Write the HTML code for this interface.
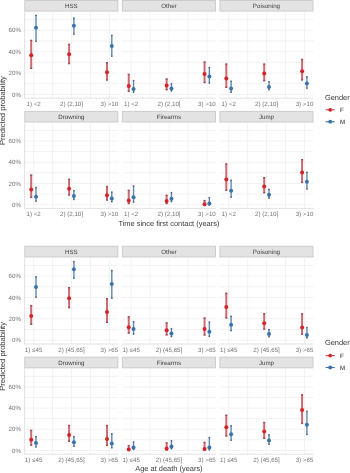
<!DOCTYPE html>
<html><head><meta charset="utf-8"><style>
html,body{margin:0;padding:0;background:#fff;width:350px;height:473px;overflow:hidden}
svg{display:block;font-family:"Liberation Sans", sans-serif;filter:blur(0.3px);text-rendering:geometricPrecision}
</style></head><body>
<svg width="350" height="473" viewBox="0 0 350 473">
<rect width="350" height="473" fill="#fff"/>
<rect x="24.8" y="0.5" width="93.1" height="10.6" fill="#e3e3e3" stroke="#cccccc" stroke-width="1"/>
<text x="71.35" y="8.1" text-anchor="middle" font-size="6.2" fill="#3e3e3e">HSS</text>
<line x1="24.3" y1="94.45" x2="118.4" y2="94.45" stroke="#efefef" stroke-width="0.8"/>
<line x1="24.3" y1="83.75" x2="118.4" y2="83.75" stroke="#efefef" stroke-width="0.8"/>
<line x1="24.3" y1="73.05" x2="118.4" y2="73.05" stroke="#efefef" stroke-width="0.8"/>
<line x1="24.3" y1="62.35" x2="118.4" y2="62.35" stroke="#efefef" stroke-width="0.8"/>
<line x1="24.3" y1="51.65" x2="118.4" y2="51.65" stroke="#efefef" stroke-width="0.8"/>
<line x1="24.3" y1="40.95" x2="118.4" y2="40.95" stroke="#efefef" stroke-width="0.8"/>
<line x1="24.3" y1="30.25" x2="118.4" y2="30.25" stroke="#efefef" stroke-width="0.8"/>
<line x1="24.3" y1="19.55" x2="118.4" y2="19.55" stroke="#efefef" stroke-width="0.8"/>
<line x1="33.6" y1="11.6" x2="33.6" y2="98.2" stroke="#efefef" stroke-width="0.8"/>
<line x1="52.55" y1="11.6" x2="52.55" y2="98.2" stroke="#efefef" stroke-width="0.8"/>
<line x1="71.5" y1="11.6" x2="71.5" y2="98.2" stroke="#efefef" stroke-width="0.8"/>
<line x1="90.45" y1="11.6" x2="90.45" y2="98.2" stroke="#efefef" stroke-width="0.8"/>
<line x1="109.4" y1="11.6" x2="109.4" y2="98.2" stroke="#efefef" stroke-width="0.8"/>
<line x1="24.3" y1="98.2" x2="118.4" y2="98.2" stroke="#dadada" stroke-width="0.8"/>
<line x1="24.6" y1="11.6" x2="24.6" y2="98.2" stroke="#dadada" stroke-width="0.8"/>
<text x="33.6" y="105.8" text-anchor="middle" font-size="6.2" fill="#737373">1) &lt;2</text>
<text x="71.5" y="105.8" text-anchor="middle" font-size="6.2" fill="#737373">2) (2,10]</text>
<text x="109.4" y="105.8" text-anchor="middle" font-size="6.2" fill="#737373">3) &gt;10</text>
<line x1="31.2" y1="40.1" x2="31.2" y2="68.6" stroke="#cb6a73" stroke-width="2.0"/>
<rect x="30.2" y="39.7" width="2.0" height="1.4" fill="#9c4a53"/>
<rect x="30.2" y="67.6" width="2.0" height="1.4" fill="#9c4a53"/>
<circle cx="31.2" cy="55.2" r="2.0" fill="#d22329"/>
<line x1="36" y1="15" x2="36" y2="41.7" stroke="#5f89b1" stroke-width="1.4"/>
<rect x="35.3" y="14.6" width="1.4" height="1.4" fill="#4a5d73"/>
<rect x="35.3" y="40.7" width="1.4" height="1.4" fill="#4a5d73"/>
<circle cx="36" cy="27.8" r="2.0" fill="#3b73a9"/>
<line x1="69.1" y1="44" x2="69.1" y2="63.9" stroke="#cb6a73" stroke-width="2.0"/>
<rect x="68.1" y="43.6" width="2.0" height="1.4" fill="#9c4a53"/>
<rect x="68.1" y="62.9" width="2.0" height="1.4" fill="#9c4a53"/>
<circle cx="69.1" cy="54.2" r="2.0" fill="#d22329"/>
<line x1="73.9" y1="17.8" x2="73.9" y2="34.5" stroke="#5f89b1" stroke-width="1.4"/>
<rect x="73.2" y="17.4" width="1.4" height="1.4" fill="#4a5d73"/>
<rect x="73.2" y="33.5" width="1.4" height="1.4" fill="#4a5d73"/>
<circle cx="73.9" cy="25.8" r="2.0" fill="#3b73a9"/>
<line x1="107" y1="62.4" x2="107" y2="80.3" stroke="#cb6a73" stroke-width="2.0"/>
<rect x="106" y="62" width="2.0" height="1.4" fill="#9c4a53"/>
<rect x="106" y="79.3" width="2.0" height="1.4" fill="#9c4a53"/>
<circle cx="107" cy="72.3" r="2.0" fill="#d22329"/>
<line x1="111.8" y1="35.1" x2="111.8" y2="56.5" stroke="#5f89b1" stroke-width="1.4"/>
<rect x="111.1" y="34.7" width="1.4" height="1.4" fill="#4a5d73"/>
<rect x="111.1" y="55.5" width="1.4" height="1.4" fill="#4a5d73"/>
<circle cx="111.8" cy="45.9" r="2.0" fill="#3b73a9"/>
<rect x="122.35" y="0.5" width="93.1" height="10.6" fill="#e3e3e3" stroke="#cccccc" stroke-width="1"/>
<text x="168.9" y="8.1" text-anchor="middle" font-size="6.2" fill="#3e3e3e">Other</text>
<line x1="121.85" y1="94.45" x2="215.95" y2="94.45" stroke="#efefef" stroke-width="0.8"/>
<line x1="121.85" y1="83.75" x2="215.95" y2="83.75" stroke="#efefef" stroke-width="0.8"/>
<line x1="121.85" y1="73.05" x2="215.95" y2="73.05" stroke="#efefef" stroke-width="0.8"/>
<line x1="121.85" y1="62.35" x2="215.95" y2="62.35" stroke="#efefef" stroke-width="0.8"/>
<line x1="121.85" y1="51.65" x2="215.95" y2="51.65" stroke="#efefef" stroke-width="0.8"/>
<line x1="121.85" y1="40.95" x2="215.95" y2="40.95" stroke="#efefef" stroke-width="0.8"/>
<line x1="121.85" y1="30.25" x2="215.95" y2="30.25" stroke="#efefef" stroke-width="0.8"/>
<line x1="121.85" y1="19.55" x2="215.95" y2="19.55" stroke="#efefef" stroke-width="0.8"/>
<line x1="131.15" y1="11.6" x2="131.15" y2="98.2" stroke="#efefef" stroke-width="0.8"/>
<line x1="150.1" y1="11.6" x2="150.1" y2="98.2" stroke="#efefef" stroke-width="0.8"/>
<line x1="169.05" y1="11.6" x2="169.05" y2="98.2" stroke="#efefef" stroke-width="0.8"/>
<line x1="188" y1="11.6" x2="188" y2="98.2" stroke="#efefef" stroke-width="0.8"/>
<line x1="206.95" y1="11.6" x2="206.95" y2="98.2" stroke="#efefef" stroke-width="0.8"/>
<line x1="121.85" y1="98.2" x2="215.95" y2="98.2" stroke="#dadada" stroke-width="0.8"/>
<text x="131.15" y="105.8" text-anchor="middle" font-size="6.2" fill="#737373">1) &lt;2</text>
<text x="169.05" y="105.8" text-anchor="middle" font-size="6.2" fill="#737373">2) (2,10]</text>
<text x="206.95" y="105.8" text-anchor="middle" font-size="6.2" fill="#737373">3) &gt;10</text>
<line x1="128.75" y1="74.1" x2="128.75" y2="91.5" stroke="#cb6a73" stroke-width="2.0"/>
<rect x="127.75" y="73.7" width="2.0" height="1.4" fill="#9c4a53"/>
<rect x="127.75" y="90.5" width="2.0" height="1.4" fill="#9c4a53"/>
<circle cx="128.75" cy="86.1" r="2.0" fill="#d22329"/>
<line x1="133.55" y1="80.3" x2="133.55" y2="92.5" stroke="#5f89b1" stroke-width="1.4"/>
<rect x="132.85" y="79.9" width="1.4" height="1.4" fill="#4a5d73"/>
<rect x="132.85" y="91.5" width="1.4" height="1.4" fill="#4a5d73"/>
<circle cx="133.55" cy="89.1" r="2.0" fill="#3b73a9"/>
<line x1="166.65" y1="78.7" x2="166.65" y2="90" stroke="#cb6a73" stroke-width="2.0"/>
<rect x="165.65" y="78.3" width="2.0" height="1.4" fill="#9c4a53"/>
<rect x="165.65" y="89" width="2.0" height="1.4" fill="#9c4a53"/>
<circle cx="166.65" cy="85.6" r="2.0" fill="#d22329"/>
<line x1="171.45" y1="83.6" x2="171.45" y2="91.3" stroke="#5f89b1" stroke-width="1.4"/>
<rect x="170.75" y="83.2" width="1.4" height="1.4" fill="#4a5d73"/>
<rect x="170.75" y="90.3" width="1.4" height="1.4" fill="#4a5d73"/>
<circle cx="171.45" cy="88.4" r="2.0" fill="#3b73a9"/>
<line x1="204.55" y1="61.7" x2="204.55" y2="82.8" stroke="#cb6a73" stroke-width="2.0"/>
<rect x="203.55" y="61.3" width="2.0" height="1.4" fill="#9c4a53"/>
<rect x="203.55" y="81.8" width="2.0" height="1.4" fill="#9c4a53"/>
<circle cx="204.55" cy="74" r="2.0" fill="#d22329"/>
<line x1="209.35" y1="67.3" x2="209.35" y2="83.3" stroke="#5f89b1" stroke-width="1.4"/>
<rect x="208.65" y="66.9" width="1.4" height="1.4" fill="#4a5d73"/>
<rect x="208.65" y="82.3" width="1.4" height="1.4" fill="#4a5d73"/>
<circle cx="209.35" cy="76.4" r="2.0" fill="#3b73a9"/>
<rect x="219.9" y="0.5" width="93.1" height="10.6" fill="#e3e3e3" stroke="#cccccc" stroke-width="1"/>
<text x="266.45" y="8.1" text-anchor="middle" font-size="6.2" fill="#3e3e3e">Poisoning</text>
<line x1="219.4" y1="94.45" x2="313.5" y2="94.45" stroke="#efefef" stroke-width="0.8"/>
<line x1="219.4" y1="83.75" x2="313.5" y2="83.75" stroke="#efefef" stroke-width="0.8"/>
<line x1="219.4" y1="73.05" x2="313.5" y2="73.05" stroke="#efefef" stroke-width="0.8"/>
<line x1="219.4" y1="62.35" x2="313.5" y2="62.35" stroke="#efefef" stroke-width="0.8"/>
<line x1="219.4" y1="51.65" x2="313.5" y2="51.65" stroke="#efefef" stroke-width="0.8"/>
<line x1="219.4" y1="40.95" x2="313.5" y2="40.95" stroke="#efefef" stroke-width="0.8"/>
<line x1="219.4" y1="30.25" x2="313.5" y2="30.25" stroke="#efefef" stroke-width="0.8"/>
<line x1="219.4" y1="19.55" x2="313.5" y2="19.55" stroke="#efefef" stroke-width="0.8"/>
<line x1="228.7" y1="11.6" x2="228.7" y2="98.2" stroke="#efefef" stroke-width="0.8"/>
<line x1="247.65" y1="11.6" x2="247.65" y2="98.2" stroke="#efefef" stroke-width="0.8"/>
<line x1="266.6" y1="11.6" x2="266.6" y2="98.2" stroke="#efefef" stroke-width="0.8"/>
<line x1="285.55" y1="11.6" x2="285.55" y2="98.2" stroke="#efefef" stroke-width="0.8"/>
<line x1="304.5" y1="11.6" x2="304.5" y2="98.2" stroke="#efefef" stroke-width="0.8"/>
<line x1="219.4" y1="98.2" x2="313.5" y2="98.2" stroke="#dadada" stroke-width="0.8"/>
<text x="228.7" y="105.8" text-anchor="middle" font-size="6.2" fill="#737373">1) &lt;2</text>
<text x="266.6" y="105.8" text-anchor="middle" font-size="6.2" fill="#737373">2) (2,10]</text>
<text x="304.5" y="105.8" text-anchor="middle" font-size="6.2" fill="#737373">3) &gt;10</text>
<line x1="226.3" y1="63.8" x2="226.3" y2="87.6" stroke="#cb6a73" stroke-width="2.0"/>
<rect x="225.3" y="63.4" width="2.0" height="1.4" fill="#9c4a53"/>
<rect x="225.3" y="86.6" width="2.0" height="1.4" fill="#9c4a53"/>
<circle cx="226.3" cy="78.4" r="2.0" fill="#d22329"/>
<line x1="231.1" y1="80.9" x2="231.1" y2="92.6" stroke="#5f89b1" stroke-width="1.4"/>
<rect x="230.4" y="80.5" width="1.4" height="1.4" fill="#4a5d73"/>
<rect x="230.4" y="91.6" width="1.4" height="1.4" fill="#4a5d73"/>
<circle cx="231.1" cy="88.6" r="2.0" fill="#3b73a9"/>
<line x1="264.2" y1="63.8" x2="264.2" y2="81" stroke="#cb6a73" stroke-width="2.0"/>
<rect x="263.2" y="63.4" width="2.0" height="1.4" fill="#9c4a53"/>
<rect x="263.2" y="80" width="2.0" height="1.4" fill="#9c4a53"/>
<circle cx="264.2" cy="73.5" r="2.0" fill="#d22329"/>
<line x1="269" y1="81.4" x2="269" y2="90.1" stroke="#5f89b1" stroke-width="1.4"/>
<rect x="268.3" y="81" width="1.4" height="1.4" fill="#4a5d73"/>
<rect x="268.3" y="89.1" width="1.4" height="1.4" fill="#4a5d73"/>
<circle cx="269" cy="87" r="2.0" fill="#3b73a9"/>
<line x1="302.1" y1="59.1" x2="302.1" y2="80.2" stroke="#cb6a73" stroke-width="2.0"/>
<rect x="301.1" y="58.7" width="2.0" height="1.4" fill="#9c4a53"/>
<rect x="301.1" y="79.2" width="2.0" height="1.4" fill="#9c4a53"/>
<circle cx="302.1" cy="71.2" r="2.0" fill="#d22329"/>
<line x1="306.9" y1="76.4" x2="306.9" y2="88.5" stroke="#5f89b1" stroke-width="1.4"/>
<rect x="306.2" y="76" width="1.4" height="1.4" fill="#4a5d73"/>
<rect x="306.2" y="87.5" width="1.4" height="1.4" fill="#4a5d73"/>
<circle cx="306.9" cy="83.5" r="2.0" fill="#3b73a9"/>
<text x="21.0" y="96.55" text-anchor="end" font-size="6.2" fill="#737373">0%</text>
<text x="21.0" y="75.15" text-anchor="end" font-size="6.2" fill="#737373">20%</text>
<text x="21.0" y="53.75" text-anchor="end" font-size="6.2" fill="#737373">40%</text>
<text x="21.0" y="32.35" text-anchor="end" font-size="6.2" fill="#737373">60%</text>
<rect x="24.8" y="111.4" width="93.1" height="10.6" fill="#e3e3e3" stroke="#cccccc" stroke-width="1"/>
<text x="71.35" y="119" text-anchor="middle" font-size="6.2" fill="#3e3e3e">Drowning</text>
<line x1="24.3" y1="204.6" x2="118.4" y2="204.6" stroke="#efefef" stroke-width="0.8"/>
<line x1="24.3" y1="194.02" x2="118.4" y2="194.02" stroke="#efefef" stroke-width="0.8"/>
<line x1="24.3" y1="183.44" x2="118.4" y2="183.44" stroke="#efefef" stroke-width="0.8"/>
<line x1="24.3" y1="172.86" x2="118.4" y2="172.86" stroke="#efefef" stroke-width="0.8"/>
<line x1="24.3" y1="162.28" x2="118.4" y2="162.28" stroke="#efefef" stroke-width="0.8"/>
<line x1="24.3" y1="151.7" x2="118.4" y2="151.7" stroke="#efefef" stroke-width="0.8"/>
<line x1="24.3" y1="141.12" x2="118.4" y2="141.12" stroke="#efefef" stroke-width="0.8"/>
<line x1="24.3" y1="130.54" x2="118.4" y2="130.54" stroke="#efefef" stroke-width="0.8"/>
<line x1="33.6" y1="122.5" x2="33.6" y2="208.4" stroke="#efefef" stroke-width="0.8"/>
<line x1="52.55" y1="122.5" x2="52.55" y2="208.4" stroke="#efefef" stroke-width="0.8"/>
<line x1="71.5" y1="122.5" x2="71.5" y2="208.4" stroke="#efefef" stroke-width="0.8"/>
<line x1="90.45" y1="122.5" x2="90.45" y2="208.4" stroke="#efefef" stroke-width="0.8"/>
<line x1="109.4" y1="122.5" x2="109.4" y2="208.4" stroke="#efefef" stroke-width="0.8"/>
<line x1="24.3" y1="208.4" x2="118.4" y2="208.4" stroke="#dadada" stroke-width="0.8"/>
<line x1="24.6" y1="122.5" x2="24.6" y2="208.4" stroke="#dadada" stroke-width="0.8"/>
<text x="33.6" y="216" text-anchor="middle" font-size="6.2" fill="#737373">1) &lt;2</text>
<text x="71.5" y="216" text-anchor="middle" font-size="6.2" fill="#737373">2) (2,10]</text>
<text x="109.4" y="216" text-anchor="middle" font-size="6.2" fill="#737373">3) &gt;10</text>
<line x1="31.2" y1="174.8" x2="31.2" y2="197.7" stroke="#cb6a73" stroke-width="2.0"/>
<rect x="30.2" y="174.4" width="2.0" height="1.4" fill="#9c4a53"/>
<rect x="30.2" y="196.7" width="2.0" height="1.4" fill="#9c4a53"/>
<circle cx="31.2" cy="189.5" r="2.0" fill="#d22329"/>
<line x1="36" y1="187.2" x2="36" y2="201.4" stroke="#5f89b1" stroke-width="1.4"/>
<rect x="35.3" y="186.8" width="1.4" height="1.4" fill="#4a5d73"/>
<rect x="35.3" y="200.4" width="1.4" height="1.4" fill="#4a5d73"/>
<circle cx="36" cy="196.8" r="2.0" fill="#3b73a9"/>
<line x1="69.1" y1="179.1" x2="69.1" y2="195.3" stroke="#cb6a73" stroke-width="2.0"/>
<rect x="68.1" y="178.7" width="2.0" height="1.4" fill="#9c4a53"/>
<rect x="68.1" y="194.3" width="2.0" height="1.4" fill="#9c4a53"/>
<circle cx="69.1" cy="188.7" r="2.0" fill="#d22329"/>
<line x1="73.9" y1="190.3" x2="73.9" y2="199.8" stroke="#5f89b1" stroke-width="1.4"/>
<rect x="73.2" y="189.9" width="1.4" height="1.4" fill="#4a5d73"/>
<rect x="73.2" y="198.8" width="1.4" height="1.4" fill="#4a5d73"/>
<circle cx="73.9" cy="196" r="2.0" fill="#3b73a9"/>
<line x1="107" y1="186.2" x2="107" y2="200.3" stroke="#cb6a73" stroke-width="2.0"/>
<rect x="106" y="185.8" width="2.0" height="1.4" fill="#9c4a53"/>
<rect x="106" y="199.3" width="2.0" height="1.4" fill="#9c4a53"/>
<circle cx="107" cy="195.3" r="2.0" fill="#d22329"/>
<line x1="111.8" y1="191.8" x2="111.8" y2="202" stroke="#5f89b1" stroke-width="1.4"/>
<rect x="111.1" y="191.4" width="1.4" height="1.4" fill="#4a5d73"/>
<rect x="111.1" y="201" width="1.4" height="1.4" fill="#4a5d73"/>
<circle cx="111.8" cy="198.5" r="2.0" fill="#3b73a9"/>
<rect x="122.35" y="111.4" width="93.1" height="10.6" fill="#e3e3e3" stroke="#cccccc" stroke-width="1"/>
<text x="168.9" y="119" text-anchor="middle" font-size="6.2" fill="#3e3e3e">Firearms</text>
<line x1="121.85" y1="204.6" x2="215.95" y2="204.6" stroke="#efefef" stroke-width="0.8"/>
<line x1="121.85" y1="194.02" x2="215.95" y2="194.02" stroke="#efefef" stroke-width="0.8"/>
<line x1="121.85" y1="183.44" x2="215.95" y2="183.44" stroke="#efefef" stroke-width="0.8"/>
<line x1="121.85" y1="172.86" x2="215.95" y2="172.86" stroke="#efefef" stroke-width="0.8"/>
<line x1="121.85" y1="162.28" x2="215.95" y2="162.28" stroke="#efefef" stroke-width="0.8"/>
<line x1="121.85" y1="151.7" x2="215.95" y2="151.7" stroke="#efefef" stroke-width="0.8"/>
<line x1="121.85" y1="141.12" x2="215.95" y2="141.12" stroke="#efefef" stroke-width="0.8"/>
<line x1="121.85" y1="130.54" x2="215.95" y2="130.54" stroke="#efefef" stroke-width="0.8"/>
<line x1="131.15" y1="122.5" x2="131.15" y2="208.4" stroke="#efefef" stroke-width="0.8"/>
<line x1="150.1" y1="122.5" x2="150.1" y2="208.4" stroke="#efefef" stroke-width="0.8"/>
<line x1="169.05" y1="122.5" x2="169.05" y2="208.4" stroke="#efefef" stroke-width="0.8"/>
<line x1="188" y1="122.5" x2="188" y2="208.4" stroke="#efefef" stroke-width="0.8"/>
<line x1="206.95" y1="122.5" x2="206.95" y2="208.4" stroke="#efefef" stroke-width="0.8"/>
<line x1="121.85" y1="208.4" x2="215.95" y2="208.4" stroke="#dadada" stroke-width="0.8"/>
<text x="131.15" y="216" text-anchor="middle" font-size="6.2" fill="#737373">1) &lt;2</text>
<text x="169.05" y="216" text-anchor="middle" font-size="6.2" fill="#737373">2) (2,10]</text>
<text x="206.95" y="216" text-anchor="middle" font-size="6.2" fill="#737373">3) &gt;10</text>
<line x1="128.75" y1="190.1" x2="128.75" y2="203.8" stroke="#cb6a73" stroke-width="2.0"/>
<rect x="127.75" y="189.7" width="2.0" height="1.4" fill="#9c4a53"/>
<rect x="127.75" y="202.8" width="2.0" height="1.4" fill="#9c4a53"/>
<circle cx="128.75" cy="200.4" r="2.0" fill="#d22329"/>
<line x1="133.55" y1="185.7" x2="133.55" y2="202.4" stroke="#5f89b1" stroke-width="1.4"/>
<rect x="132.85" y="185.3" width="1.4" height="1.4" fill="#4a5d73"/>
<rect x="132.85" y="201.4" width="1.4" height="1.4" fill="#4a5d73"/>
<circle cx="133.55" cy="197.2" r="2.0" fill="#3b73a9"/>
<line x1="166.65" y1="195" x2="166.65" y2="203.8" stroke="#cb6a73" stroke-width="2.0"/>
<rect x="165.65" y="194.6" width="2.0" height="1.4" fill="#9c4a53"/>
<rect x="165.65" y="202.8" width="2.0" height="1.4" fill="#9c4a53"/>
<circle cx="166.65" cy="201.1" r="2.0" fill="#d22329"/>
<line x1="171.45" y1="192.3" x2="171.45" y2="201.9" stroke="#5f89b1" stroke-width="1.4"/>
<rect x="170.75" y="191.9" width="1.4" height="1.4" fill="#4a5d73"/>
<rect x="170.75" y="200.9" width="1.4" height="1.4" fill="#4a5d73"/>
<circle cx="171.45" cy="198.7" r="2.0" fill="#3b73a9"/>
<line x1="204.55" y1="200.3" x2="204.55" y2="205.4" stroke="#cb6a73" stroke-width="2.0"/>
<rect x="203.55" y="199.9" width="2.0" height="1.4" fill="#9c4a53"/>
<rect x="203.55" y="204.4" width="2.0" height="1.4" fill="#9c4a53"/>
<circle cx="204.55" cy="204.3" r="2.0" fill="#d22329"/>
<line x1="209.35" y1="197.4" x2="209.35" y2="205.4" stroke="#5f89b1" stroke-width="1.4"/>
<rect x="208.65" y="197" width="1.4" height="1.4" fill="#4a5d73"/>
<rect x="208.65" y="204.4" width="1.4" height="1.4" fill="#4a5d73"/>
<circle cx="209.35" cy="203.5" r="2.0" fill="#3b73a9"/>
<rect x="219.9" y="111.4" width="93.1" height="10.6" fill="#e3e3e3" stroke="#cccccc" stroke-width="1"/>
<text x="266.45" y="119" text-anchor="middle" font-size="6.2" fill="#3e3e3e">Jump</text>
<line x1="219.4" y1="204.6" x2="313.5" y2="204.6" stroke="#efefef" stroke-width="0.8"/>
<line x1="219.4" y1="194.02" x2="313.5" y2="194.02" stroke="#efefef" stroke-width="0.8"/>
<line x1="219.4" y1="183.44" x2="313.5" y2="183.44" stroke="#efefef" stroke-width="0.8"/>
<line x1="219.4" y1="172.86" x2="313.5" y2="172.86" stroke="#efefef" stroke-width="0.8"/>
<line x1="219.4" y1="162.28" x2="313.5" y2="162.28" stroke="#efefef" stroke-width="0.8"/>
<line x1="219.4" y1="151.7" x2="313.5" y2="151.7" stroke="#efefef" stroke-width="0.8"/>
<line x1="219.4" y1="141.12" x2="313.5" y2="141.12" stroke="#efefef" stroke-width="0.8"/>
<line x1="219.4" y1="130.54" x2="313.5" y2="130.54" stroke="#efefef" stroke-width="0.8"/>
<line x1="228.7" y1="122.5" x2="228.7" y2="208.4" stroke="#efefef" stroke-width="0.8"/>
<line x1="247.65" y1="122.5" x2="247.65" y2="208.4" stroke="#efefef" stroke-width="0.8"/>
<line x1="266.6" y1="122.5" x2="266.6" y2="208.4" stroke="#efefef" stroke-width="0.8"/>
<line x1="285.55" y1="122.5" x2="285.55" y2="208.4" stroke="#efefef" stroke-width="0.8"/>
<line x1="304.5" y1="122.5" x2="304.5" y2="208.4" stroke="#efefef" stroke-width="0.8"/>
<line x1="219.4" y1="208.4" x2="313.5" y2="208.4" stroke="#dadada" stroke-width="0.8"/>
<text x="228.7" y="216" text-anchor="middle" font-size="6.2" fill="#737373">1) &lt;2</text>
<text x="266.6" y="216" text-anchor="middle" font-size="6.2" fill="#737373">2) (2,10]</text>
<text x="304.5" y="216" text-anchor="middle" font-size="6.2" fill="#737373">3) &gt;10</text>
<line x1="226.3" y1="163.6" x2="226.3" y2="190.5" stroke="#cb6a73" stroke-width="2.0"/>
<rect x="225.3" y="163.2" width="2.0" height="1.4" fill="#9c4a53"/>
<rect x="225.3" y="189.5" width="2.0" height="1.4" fill="#9c4a53"/>
<circle cx="226.3" cy="179.4" r="2.0" fill="#d22329"/>
<line x1="231.1" y1="179.9" x2="231.1" y2="197.4" stroke="#5f89b1" stroke-width="1.4"/>
<rect x="230.4" y="179.5" width="1.4" height="1.4" fill="#4a5d73"/>
<rect x="230.4" y="196.4" width="1.4" height="1.4" fill="#4a5d73"/>
<circle cx="231.1" cy="190.8" r="2.0" fill="#3b73a9"/>
<line x1="264.2" y1="177.4" x2="264.2" y2="193" stroke="#cb6a73" stroke-width="2.0"/>
<rect x="263.2" y="177" width="2.0" height="1.4" fill="#9c4a53"/>
<rect x="263.2" y="192" width="2.0" height="1.4" fill="#9c4a53"/>
<circle cx="264.2" cy="186.5" r="2.0" fill="#d22329"/>
<line x1="269" y1="189" x2="269" y2="198.4" stroke="#5f89b1" stroke-width="1.4"/>
<rect x="268.3" y="188.6" width="1.4" height="1.4" fill="#4a5d73"/>
<rect x="268.3" y="197.4" width="1.4" height="1.4" fill="#4a5d73"/>
<circle cx="269" cy="194.8" r="2.0" fill="#3b73a9"/>
<line x1="302.1" y1="159.4" x2="302.1" y2="182.7" stroke="#cb6a73" stroke-width="2.0"/>
<rect x="301.1" y="159" width="2.0" height="1.4" fill="#9c4a53"/>
<rect x="301.1" y="181.7" width="2.0" height="1.4" fill="#9c4a53"/>
<circle cx="302.1" cy="172.5" r="2.0" fill="#d22329"/>
<line x1="306.9" y1="172" x2="306.9" y2="189.3" stroke="#5f89b1" stroke-width="1.4"/>
<rect x="306.2" y="171.6" width="1.4" height="1.4" fill="#4a5d73"/>
<rect x="306.2" y="188.3" width="1.4" height="1.4" fill="#4a5d73"/>
<circle cx="306.9" cy="181.8" r="2.0" fill="#3b73a9"/>
<text x="21.0" y="206.7" text-anchor="end" font-size="6.2" fill="#737373">0%</text>
<text x="21.0" y="185.54" text-anchor="end" font-size="6.2" fill="#737373">20%</text>
<text x="21.0" y="164.38" text-anchor="end" font-size="6.2" fill="#737373">40%</text>
<text x="21.0" y="143.22" text-anchor="end" font-size="6.2" fill="#737373">60%</text>
<text x="168.9" y="225.7" text-anchor="middle" font-size="7.45" fill="#3a3a3a">Time since first contact (years)</text>
<text transform="translate(5.2,110.6) rotate(-90)" x="0" y="0" text-anchor="middle" font-size="7.6" fill="#3a3a3a">Predicted probability</text>
<text x="324.9" y="99.6" font-size="7.45" fill="#3a3a3a">Gender</text>
<line x1="325.6" y1="109.8" x2="334.8" y2="109.8" stroke="#c4434b" stroke-width="1.1"/>
<circle cx="330.2" cy="109.8" r="1.9" fill="#d22329"/>
<text x="340.1" y="112" font-size="6.2" fill="#4a4a4a" stroke="#4a4a4a" stroke-width="0.12">F</text>
<line x1="325.6" y1="121.7" x2="334.8" y2="121.7" stroke="#3f73a5" stroke-width="1.1"/>
<circle cx="330.2" cy="121.7" r="1.9" fill="#3b73a9"/>
<text x="340.1" y="123.9" font-size="6.2" fill="#4a4a4a" stroke="#4a4a4a" stroke-width="0.12">M</text>
<rect x="24.8" y="246.3" width="93.1" height="10.6" fill="#e3e3e3" stroke="#cccccc" stroke-width="1"/>
<text x="71.35" y="253.9" text-anchor="middle" font-size="6.2" fill="#3e3e3e">HSS</text>
<line x1="24.3" y1="340.25" x2="118.4" y2="340.25" stroke="#efefef" stroke-width="0.8"/>
<line x1="24.3" y1="329.55" x2="118.4" y2="329.55" stroke="#efefef" stroke-width="0.8"/>
<line x1="24.3" y1="318.85" x2="118.4" y2="318.85" stroke="#efefef" stroke-width="0.8"/>
<line x1="24.3" y1="308.15" x2="118.4" y2="308.15" stroke="#efefef" stroke-width="0.8"/>
<line x1="24.3" y1="297.45" x2="118.4" y2="297.45" stroke="#efefef" stroke-width="0.8"/>
<line x1="24.3" y1="286.75" x2="118.4" y2="286.75" stroke="#efefef" stroke-width="0.8"/>
<line x1="24.3" y1="276.05" x2="118.4" y2="276.05" stroke="#efefef" stroke-width="0.8"/>
<line x1="24.3" y1="265.35" x2="118.4" y2="265.35" stroke="#efefef" stroke-width="0.8"/>
<line x1="33.6" y1="257.4" x2="33.6" y2="344" stroke="#efefef" stroke-width="0.8"/>
<line x1="52.55" y1="257.4" x2="52.55" y2="344" stroke="#efefef" stroke-width="0.8"/>
<line x1="71.5" y1="257.4" x2="71.5" y2="344" stroke="#efefef" stroke-width="0.8"/>
<line x1="90.45" y1="257.4" x2="90.45" y2="344" stroke="#efefef" stroke-width="0.8"/>
<line x1="109.4" y1="257.4" x2="109.4" y2="344" stroke="#efefef" stroke-width="0.8"/>
<line x1="24.3" y1="344" x2="118.4" y2="344" stroke="#dadada" stroke-width="0.8"/>
<line x1="24.6" y1="257.4" x2="24.6" y2="344" stroke="#dadada" stroke-width="0.8"/>
<text x="33.6" y="351.6" text-anchor="middle" font-size="6.2" fill="#737373">1) ≤45</text>
<text x="71.5" y="351.6" text-anchor="middle" font-size="6.2" fill="#737373">2) (45,65]</text>
<text x="109.4" y="351.6" text-anchor="middle" font-size="6.2" fill="#737373">3) &gt;65</text>
<line x1="31.2" y1="305.4" x2="31.2" y2="324.5" stroke="#cb6a73" stroke-width="2.0"/>
<rect x="30.2" y="305" width="2.0" height="1.4" fill="#9c4a53"/>
<rect x="30.2" y="323.5" width="2.0" height="1.4" fill="#9c4a53"/>
<circle cx="31.2" cy="315.9" r="2.0" fill="#d22329"/>
<line x1="36" y1="276.5" x2="36" y2="297.4" stroke="#5f89b1" stroke-width="1.4"/>
<rect x="35.3" y="276.1" width="1.4" height="1.4" fill="#4a5d73"/>
<rect x="35.3" y="296.4" width="1.4" height="1.4" fill="#4a5d73"/>
<circle cx="36" cy="287" r="2.0" fill="#3b73a9"/>
<line x1="69.1" y1="287.4" x2="69.1" y2="307.9" stroke="#cb6a73" stroke-width="2.0"/>
<rect x="68.1" y="287" width="2.0" height="1.4" fill="#9c4a53"/>
<rect x="68.1" y="306.9" width="2.0" height="1.4" fill="#9c4a53"/>
<circle cx="69.1" cy="298.2" r="2.0" fill="#d22329"/>
<line x1="73.9" y1="261.3" x2="73.9" y2="278.4" stroke="#5f89b1" stroke-width="1.4"/>
<rect x="73.2" y="260.9" width="1.4" height="1.4" fill="#4a5d73"/>
<rect x="73.2" y="277.4" width="1.4" height="1.4" fill="#4a5d73"/>
<circle cx="73.9" cy="269.3" r="2.0" fill="#3b73a9"/>
<line x1="107" y1="298.4" x2="107" y2="322.6" stroke="#cb6a73" stroke-width="2.0"/>
<rect x="106" y="298" width="2.0" height="1.4" fill="#9c4a53"/>
<rect x="106" y="321.6" width="2.0" height="1.4" fill="#9c4a53"/>
<circle cx="107" cy="312.1" r="2.0" fill="#d22329"/>
<line x1="111.8" y1="270.2" x2="111.8" y2="298.4" stroke="#5f89b1" stroke-width="1.4"/>
<rect x="111.1" y="269.8" width="1.4" height="1.4" fill="#4a5d73"/>
<rect x="111.1" y="297.4" width="1.4" height="1.4" fill="#4a5d73"/>
<circle cx="111.8" cy="284.1" r="2.0" fill="#3b73a9"/>
<rect x="122.35" y="246.3" width="93.1" height="10.6" fill="#e3e3e3" stroke="#cccccc" stroke-width="1"/>
<text x="168.9" y="253.9" text-anchor="middle" font-size="6.2" fill="#3e3e3e">Other</text>
<line x1="121.85" y1="340.25" x2="215.95" y2="340.25" stroke="#efefef" stroke-width="0.8"/>
<line x1="121.85" y1="329.55" x2="215.95" y2="329.55" stroke="#efefef" stroke-width="0.8"/>
<line x1="121.85" y1="318.85" x2="215.95" y2="318.85" stroke="#efefef" stroke-width="0.8"/>
<line x1="121.85" y1="308.15" x2="215.95" y2="308.15" stroke="#efefef" stroke-width="0.8"/>
<line x1="121.85" y1="297.45" x2="215.95" y2="297.45" stroke="#efefef" stroke-width="0.8"/>
<line x1="121.85" y1="286.75" x2="215.95" y2="286.75" stroke="#efefef" stroke-width="0.8"/>
<line x1="121.85" y1="276.05" x2="215.95" y2="276.05" stroke="#efefef" stroke-width="0.8"/>
<line x1="121.85" y1="265.35" x2="215.95" y2="265.35" stroke="#efefef" stroke-width="0.8"/>
<line x1="131.15" y1="257.4" x2="131.15" y2="344" stroke="#efefef" stroke-width="0.8"/>
<line x1="150.1" y1="257.4" x2="150.1" y2="344" stroke="#efefef" stroke-width="0.8"/>
<line x1="169.05" y1="257.4" x2="169.05" y2="344" stroke="#efefef" stroke-width="0.8"/>
<line x1="188" y1="257.4" x2="188" y2="344" stroke="#efefef" stroke-width="0.8"/>
<line x1="206.95" y1="257.4" x2="206.95" y2="344" stroke="#efefef" stroke-width="0.8"/>
<line x1="121.85" y1="344" x2="215.95" y2="344" stroke="#dadada" stroke-width="0.8"/>
<text x="131.15" y="351.6" text-anchor="middle" font-size="6.2" fill="#737373">1) ≤45</text>
<text x="169.05" y="351.6" text-anchor="middle" font-size="6.2" fill="#737373">2) (45,65]</text>
<text x="206.95" y="351.6" text-anchor="middle" font-size="6.2" fill="#737373">3) &gt;65</text>
<line x1="128.75" y1="316.5" x2="128.75" y2="333.4" stroke="#cb6a73" stroke-width="2.0"/>
<rect x="127.75" y="316.1" width="2.0" height="1.4" fill="#9c4a53"/>
<rect x="127.75" y="332.4" width="2.0" height="1.4" fill="#9c4a53"/>
<circle cx="128.75" cy="327.2" r="2.0" fill="#d22329"/>
<line x1="133.55" y1="321.3" x2="133.55" y2="334.4" stroke="#5f89b1" stroke-width="1.4"/>
<rect x="132.85" y="320.9" width="1.4" height="1.4" fill="#4a5d73"/>
<rect x="132.85" y="333.4" width="1.4" height="1.4" fill="#4a5d73"/>
<circle cx="133.55" cy="329" r="2.0" fill="#3b73a9"/>
<line x1="166.65" y1="322.6" x2="166.65" y2="335.2" stroke="#cb6a73" stroke-width="2.0"/>
<rect x="165.65" y="322.2" width="2.0" height="1.4" fill="#9c4a53"/>
<rect x="165.65" y="334.2" width="2.0" height="1.4" fill="#9c4a53"/>
<circle cx="166.65" cy="330.3" r="2.0" fill="#d22329"/>
<line x1="171.45" y1="328.3" x2="171.45" y2="336.9" stroke="#5f89b1" stroke-width="1.4"/>
<rect x="170.75" y="327.9" width="1.4" height="1.4" fill="#4a5d73"/>
<rect x="170.75" y="335.9" width="1.4" height="1.4" fill="#4a5d73"/>
<circle cx="171.45" cy="333.4" r="2.0" fill="#3b73a9"/>
<line x1="204.55" y1="317.7" x2="204.55" y2="335.3" stroke="#cb6a73" stroke-width="2.0"/>
<rect x="203.55" y="317.3" width="2.0" height="1.4" fill="#9c4a53"/>
<rect x="203.55" y="334.3" width="2.0" height="1.4" fill="#9c4a53"/>
<circle cx="204.55" cy="329.1" r="2.0" fill="#d22329"/>
<line x1="209.35" y1="321.7" x2="209.35" y2="336.6" stroke="#5f89b1" stroke-width="1.4"/>
<rect x="208.65" y="321.3" width="1.4" height="1.4" fill="#4a5d73"/>
<rect x="208.65" y="335.6" width="1.4" height="1.4" fill="#4a5d73"/>
<circle cx="209.35" cy="331.8" r="2.0" fill="#3b73a9"/>
<rect x="219.9" y="246.3" width="93.1" height="10.6" fill="#e3e3e3" stroke="#cccccc" stroke-width="1"/>
<text x="266.45" y="253.9" text-anchor="middle" font-size="6.2" fill="#3e3e3e">Poisoning</text>
<line x1="219.4" y1="340.25" x2="313.5" y2="340.25" stroke="#efefef" stroke-width="0.8"/>
<line x1="219.4" y1="329.55" x2="313.5" y2="329.55" stroke="#efefef" stroke-width="0.8"/>
<line x1="219.4" y1="318.85" x2="313.5" y2="318.85" stroke="#efefef" stroke-width="0.8"/>
<line x1="219.4" y1="308.15" x2="313.5" y2="308.15" stroke="#efefef" stroke-width="0.8"/>
<line x1="219.4" y1="297.45" x2="313.5" y2="297.45" stroke="#efefef" stroke-width="0.8"/>
<line x1="219.4" y1="286.75" x2="313.5" y2="286.75" stroke="#efefef" stroke-width="0.8"/>
<line x1="219.4" y1="276.05" x2="313.5" y2="276.05" stroke="#efefef" stroke-width="0.8"/>
<line x1="219.4" y1="265.35" x2="313.5" y2="265.35" stroke="#efefef" stroke-width="0.8"/>
<line x1="228.7" y1="257.4" x2="228.7" y2="344" stroke="#efefef" stroke-width="0.8"/>
<line x1="247.65" y1="257.4" x2="247.65" y2="344" stroke="#efefef" stroke-width="0.8"/>
<line x1="266.6" y1="257.4" x2="266.6" y2="344" stroke="#efefef" stroke-width="0.8"/>
<line x1="285.55" y1="257.4" x2="285.55" y2="344" stroke="#efefef" stroke-width="0.8"/>
<line x1="304.5" y1="257.4" x2="304.5" y2="344" stroke="#efefef" stroke-width="0.8"/>
<line x1="219.4" y1="344" x2="313.5" y2="344" stroke="#dadada" stroke-width="0.8"/>
<text x="228.7" y="351.6" text-anchor="middle" font-size="6.2" fill="#737373">1) ≤45</text>
<text x="266.6" y="351.6" text-anchor="middle" font-size="6.2" fill="#737373">2) (45,65]</text>
<text x="304.5" y="351.6" text-anchor="middle" font-size="6.2" fill="#737373">3) &gt;65</text>
<line x1="226.3" y1="293" x2="226.3" y2="318.2" stroke="#cb6a73" stroke-width="2.0"/>
<rect x="225.3" y="292.6" width="2.0" height="1.4" fill="#9c4a53"/>
<rect x="225.3" y="317.2" width="2.0" height="1.4" fill="#9c4a53"/>
<circle cx="226.3" cy="306.9" r="2.0" fill="#d22329"/>
<line x1="231.1" y1="316" x2="231.1" y2="330.9" stroke="#5f89b1" stroke-width="1.4"/>
<rect x="230.4" y="315.6" width="1.4" height="1.4" fill="#4a5d73"/>
<rect x="230.4" y="329.9" width="1.4" height="1.4" fill="#4a5d73"/>
<circle cx="231.1" cy="324.8" r="2.0" fill="#3b73a9"/>
<line x1="264.2" y1="313.5" x2="264.2" y2="329.4" stroke="#cb6a73" stroke-width="2.0"/>
<rect x="263.2" y="313.1" width="2.0" height="1.4" fill="#9c4a53"/>
<rect x="263.2" y="328.4" width="2.0" height="1.4" fill="#9c4a53"/>
<circle cx="264.2" cy="323.2" r="2.0" fill="#d22329"/>
<line x1="269" y1="329.3" x2="269" y2="337.1" stroke="#5f89b1" stroke-width="1.4"/>
<rect x="268.3" y="328.9" width="1.4" height="1.4" fill="#4a5d73"/>
<rect x="268.3" y="336.1" width="1.4" height="1.4" fill="#4a5d73"/>
<circle cx="269" cy="334" r="2.0" fill="#3b73a9"/>
<line x1="302.1" y1="313.6" x2="302.1" y2="334.6" stroke="#cb6a73" stroke-width="2.0"/>
<rect x="301.1" y="313.2" width="2.0" height="1.4" fill="#9c4a53"/>
<rect x="301.1" y="333.6" width="2.0" height="1.4" fill="#9c4a53"/>
<circle cx="302.1" cy="327.5" r="2.0" fill="#d22329"/>
<line x1="306.9" y1="327.2" x2="306.9" y2="338.2" stroke="#5f89b1" stroke-width="1.4"/>
<rect x="306.2" y="326.8" width="1.4" height="1.4" fill="#4a5d73"/>
<rect x="306.2" y="337.2" width="1.4" height="1.4" fill="#4a5d73"/>
<circle cx="306.9" cy="335.1" r="2.0" fill="#3b73a9"/>
<text x="21.0" y="342.35" text-anchor="end" font-size="6.2" fill="#737373">0%</text>
<text x="21.0" y="320.95" text-anchor="end" font-size="6.2" fill="#737373">20%</text>
<text x="21.0" y="299.55" text-anchor="end" font-size="6.2" fill="#737373">40%</text>
<text x="21.0" y="278.15" text-anchor="end" font-size="6.2" fill="#737373">60%</text>
<rect x="24.8" y="357.2" width="93.1" height="10.6" fill="#e3e3e3" stroke="#cccccc" stroke-width="1"/>
<text x="71.35" y="364.8" text-anchor="middle" font-size="6.2" fill="#3e3e3e">Drowning</text>
<line x1="24.3" y1="450.4" x2="118.4" y2="450.4" stroke="#efefef" stroke-width="0.8"/>
<line x1="24.3" y1="439.82" x2="118.4" y2="439.82" stroke="#efefef" stroke-width="0.8"/>
<line x1="24.3" y1="429.24" x2="118.4" y2="429.24" stroke="#efefef" stroke-width="0.8"/>
<line x1="24.3" y1="418.66" x2="118.4" y2="418.66" stroke="#efefef" stroke-width="0.8"/>
<line x1="24.3" y1="408.08" x2="118.4" y2="408.08" stroke="#efefef" stroke-width="0.8"/>
<line x1="24.3" y1="397.5" x2="118.4" y2="397.5" stroke="#efefef" stroke-width="0.8"/>
<line x1="24.3" y1="386.92" x2="118.4" y2="386.92" stroke="#efefef" stroke-width="0.8"/>
<line x1="24.3" y1="376.34" x2="118.4" y2="376.34" stroke="#efefef" stroke-width="0.8"/>
<line x1="33.6" y1="368.3" x2="33.6" y2="454.2" stroke="#efefef" stroke-width="0.8"/>
<line x1="52.55" y1="368.3" x2="52.55" y2="454.2" stroke="#efefef" stroke-width="0.8"/>
<line x1="71.5" y1="368.3" x2="71.5" y2="454.2" stroke="#efefef" stroke-width="0.8"/>
<line x1="90.45" y1="368.3" x2="90.45" y2="454.2" stroke="#efefef" stroke-width="0.8"/>
<line x1="109.4" y1="368.3" x2="109.4" y2="454.2" stroke="#efefef" stroke-width="0.8"/>
<line x1="24.3" y1="454.2" x2="118.4" y2="454.2" stroke="#dadada" stroke-width="0.8"/>
<line x1="24.6" y1="368.3" x2="24.6" y2="454.2" stroke="#dadada" stroke-width="0.8"/>
<text x="33.6" y="461.8" text-anchor="middle" font-size="6.2" fill="#737373">1) ≤45</text>
<text x="71.5" y="461.8" text-anchor="middle" font-size="6.2" fill="#737373">2) (45,65]</text>
<text x="109.4" y="461.8" text-anchor="middle" font-size="6.2" fill="#737373">3) &gt;65</text>
<line x1="31.2" y1="430.1" x2="31.2" y2="445.5" stroke="#cb6a73" stroke-width="2.0"/>
<rect x="30.2" y="429.7" width="2.0" height="1.4" fill="#9c4a53"/>
<rect x="30.2" y="444.5" width="2.0" height="1.4" fill="#9c4a53"/>
<circle cx="31.2" cy="439.7" r="2.0" fill="#d22329"/>
<line x1="36" y1="436.3" x2="36" y2="447.3" stroke="#5f89b1" stroke-width="1.4"/>
<rect x="35.3" y="435.9" width="1.4" height="1.4" fill="#4a5d73"/>
<rect x="35.3" y="446.3" width="1.4" height="1.4" fill="#4a5d73"/>
<circle cx="36" cy="443.1" r="2.0" fill="#3b73a9"/>
<line x1="69.1" y1="425.2" x2="69.1" y2="441.6" stroke="#cb6a73" stroke-width="2.0"/>
<rect x="68.1" y="424.8" width="2.0" height="1.4" fill="#9c4a53"/>
<rect x="68.1" y="440.6" width="2.0" height="1.4" fill="#9c4a53"/>
<circle cx="69.1" cy="434.9" r="2.0" fill="#d22329"/>
<line x1="73.9" y1="436.2" x2="73.9" y2="446.5" stroke="#5f89b1" stroke-width="1.4"/>
<rect x="73.2" y="435.8" width="1.4" height="1.4" fill="#4a5d73"/>
<rect x="73.2" y="445.5" width="1.4" height="1.4" fill="#4a5d73"/>
<circle cx="73.9" cy="442.3" r="2.0" fill="#3b73a9"/>
<line x1="107" y1="425.2" x2="107" y2="445.6" stroke="#cb6a73" stroke-width="2.0"/>
<rect x="106" y="424.8" width="2.0" height="1.4" fill="#9c4a53"/>
<rect x="106" y="444.6" width="2.0" height="1.4" fill="#9c4a53"/>
<circle cx="107" cy="439" r="2.0" fill="#d22329"/>
<line x1="111.8" y1="433.5" x2="111.8" y2="448.1" stroke="#5f89b1" stroke-width="1.4"/>
<rect x="111.1" y="433.1" width="1.4" height="1.4" fill="#4a5d73"/>
<rect x="111.1" y="447.1" width="1.4" height="1.4" fill="#4a5d73"/>
<circle cx="111.8" cy="443.5" r="2.0" fill="#3b73a9"/>
<rect x="122.35" y="357.2" width="93.1" height="10.6" fill="#e3e3e3" stroke="#cccccc" stroke-width="1"/>
<text x="168.9" y="364.8" text-anchor="middle" font-size="6.2" fill="#3e3e3e">Firearms</text>
<line x1="121.85" y1="450.4" x2="215.95" y2="450.4" stroke="#efefef" stroke-width="0.8"/>
<line x1="121.85" y1="439.82" x2="215.95" y2="439.82" stroke="#efefef" stroke-width="0.8"/>
<line x1="121.85" y1="429.24" x2="215.95" y2="429.24" stroke="#efefef" stroke-width="0.8"/>
<line x1="121.85" y1="418.66" x2="215.95" y2="418.66" stroke="#efefef" stroke-width="0.8"/>
<line x1="121.85" y1="408.08" x2="215.95" y2="408.08" stroke="#efefef" stroke-width="0.8"/>
<line x1="121.85" y1="397.5" x2="215.95" y2="397.5" stroke="#efefef" stroke-width="0.8"/>
<line x1="121.85" y1="386.92" x2="215.95" y2="386.92" stroke="#efefef" stroke-width="0.8"/>
<line x1="121.85" y1="376.34" x2="215.95" y2="376.34" stroke="#efefef" stroke-width="0.8"/>
<line x1="131.15" y1="368.3" x2="131.15" y2="454.2" stroke="#efefef" stroke-width="0.8"/>
<line x1="150.1" y1="368.3" x2="150.1" y2="454.2" stroke="#efefef" stroke-width="0.8"/>
<line x1="169.05" y1="368.3" x2="169.05" y2="454.2" stroke="#efefef" stroke-width="0.8"/>
<line x1="188" y1="368.3" x2="188" y2="454.2" stroke="#efefef" stroke-width="0.8"/>
<line x1="206.95" y1="368.3" x2="206.95" y2="454.2" stroke="#efefef" stroke-width="0.8"/>
<line x1="121.85" y1="454.2" x2="215.95" y2="454.2" stroke="#dadada" stroke-width="0.8"/>
<text x="131.15" y="461.8" text-anchor="middle" font-size="6.2" fill="#737373">1) ≤45</text>
<text x="169.05" y="461.8" text-anchor="middle" font-size="6.2" fill="#737373">2) (45,65]</text>
<text x="206.95" y="461.8" text-anchor="middle" font-size="6.2" fill="#737373">3) &gt;65</text>
<line x1="128.75" y1="445.3" x2="128.75" y2="450.4" stroke="#cb6a73" stroke-width="2.0"/>
<rect x="127.75" y="444.9" width="2.0" height="1.4" fill="#9c4a53"/>
<rect x="127.75" y="449.4" width="2.0" height="1.4" fill="#9c4a53"/>
<circle cx="128.75" cy="449.4" r="2.0" fill="#d22329"/>
<line x1="133.55" y1="441.7" x2="133.55" y2="449.7" stroke="#5f89b1" stroke-width="1.4"/>
<rect x="132.85" y="441.3" width="1.4" height="1.4" fill="#4a5d73"/>
<rect x="132.85" y="448.7" width="1.4" height="1.4" fill="#4a5d73"/>
<circle cx="133.55" cy="447.6" r="2.0" fill="#3b73a9"/>
<line x1="166.65" y1="442.6" x2="166.65" y2="450.4" stroke="#cb6a73" stroke-width="2.0"/>
<rect x="165.65" y="442.2" width="2.0" height="1.4" fill="#9c4a53"/>
<rect x="165.65" y="449.4" width="2.0" height="1.4" fill="#9c4a53"/>
<circle cx="166.65" cy="448.4" r="2.0" fill="#d22329"/>
<line x1="171.45" y1="440.5" x2="171.45" y2="449.1" stroke="#5f89b1" stroke-width="1.4"/>
<rect x="170.75" y="440.1" width="1.4" height="1.4" fill="#4a5d73"/>
<rect x="170.75" y="448.1" width="1.4" height="1.4" fill="#4a5d73"/>
<circle cx="171.45" cy="446.4" r="2.0" fill="#3b73a9"/>
<line x1="204.55" y1="442.1" x2="204.55" y2="450.4" stroke="#cb6a73" stroke-width="2.0"/>
<rect x="203.55" y="441.7" width="2.0" height="1.4" fill="#9c4a53"/>
<rect x="203.55" y="449.4" width="2.0" height="1.4" fill="#9c4a53"/>
<circle cx="204.55" cy="449.1" r="2.0" fill="#d22329"/>
<line x1="209.35" y1="437.3" x2="209.35" y2="450.1" stroke="#5f89b1" stroke-width="1.4"/>
<rect x="208.65" y="436.9" width="1.4" height="1.4" fill="#4a5d73"/>
<rect x="208.65" y="449.1" width="1.4" height="1.4" fill="#4a5d73"/>
<circle cx="209.35" cy="447.5" r="2.0" fill="#3b73a9"/>
<rect x="219.9" y="357.2" width="93.1" height="10.6" fill="#e3e3e3" stroke="#cccccc" stroke-width="1"/>
<text x="266.45" y="364.8" text-anchor="middle" font-size="6.2" fill="#3e3e3e">Jump</text>
<line x1="219.4" y1="450.4" x2="313.5" y2="450.4" stroke="#efefef" stroke-width="0.8"/>
<line x1="219.4" y1="439.82" x2="313.5" y2="439.82" stroke="#efefef" stroke-width="0.8"/>
<line x1="219.4" y1="429.24" x2="313.5" y2="429.24" stroke="#efefef" stroke-width="0.8"/>
<line x1="219.4" y1="418.66" x2="313.5" y2="418.66" stroke="#efefef" stroke-width="0.8"/>
<line x1="219.4" y1="408.08" x2="313.5" y2="408.08" stroke="#efefef" stroke-width="0.8"/>
<line x1="219.4" y1="397.5" x2="313.5" y2="397.5" stroke="#efefef" stroke-width="0.8"/>
<line x1="219.4" y1="386.92" x2="313.5" y2="386.92" stroke="#efefef" stroke-width="0.8"/>
<line x1="219.4" y1="376.34" x2="313.5" y2="376.34" stroke="#efefef" stroke-width="0.8"/>
<line x1="228.7" y1="368.3" x2="228.7" y2="454.2" stroke="#efefef" stroke-width="0.8"/>
<line x1="247.65" y1="368.3" x2="247.65" y2="454.2" stroke="#efefef" stroke-width="0.8"/>
<line x1="266.6" y1="368.3" x2="266.6" y2="454.2" stroke="#efefef" stroke-width="0.8"/>
<line x1="285.55" y1="368.3" x2="285.55" y2="454.2" stroke="#efefef" stroke-width="0.8"/>
<line x1="304.5" y1="368.3" x2="304.5" y2="454.2" stroke="#efefef" stroke-width="0.8"/>
<line x1="219.4" y1="454.2" x2="313.5" y2="454.2" stroke="#dadada" stroke-width="0.8"/>
<text x="228.7" y="461.8" text-anchor="middle" font-size="6.2" fill="#737373">1) ≤45</text>
<text x="266.6" y="461.8" text-anchor="middle" font-size="6.2" fill="#737373">2) (45,65]</text>
<text x="304.5" y="461.8" text-anchor="middle" font-size="6.2" fill="#737373">3) &gt;65</text>
<line x1="226.3" y1="415" x2="226.3" y2="436.2" stroke="#cb6a73" stroke-width="2.0"/>
<rect x="225.3" y="414.6" width="2.0" height="1.4" fill="#9c4a53"/>
<rect x="225.3" y="435.2" width="2.0" height="1.4" fill="#9c4a53"/>
<circle cx="226.3" cy="427.3" r="2.0" fill="#d22329"/>
<line x1="231.1" y1="425.5" x2="231.1" y2="440.5" stroke="#5f89b1" stroke-width="1.4"/>
<rect x="230.4" y="425.1" width="1.4" height="1.4" fill="#4a5d73"/>
<rect x="230.4" y="439.5" width="1.4" height="1.4" fill="#4a5d73"/>
<circle cx="231.1" cy="434.3" r="2.0" fill="#3b73a9"/>
<line x1="264.2" y1="422.2" x2="264.2" y2="438.6" stroke="#cb6a73" stroke-width="2.0"/>
<rect x="263.2" y="421.8" width="2.0" height="1.4" fill="#9c4a53"/>
<rect x="263.2" y="437.6" width="2.0" height="1.4" fill="#9c4a53"/>
<circle cx="264.2" cy="431.6" r="2.0" fill="#d22329"/>
<line x1="269" y1="434.4" x2="269" y2="444.6" stroke="#5f89b1" stroke-width="1.4"/>
<rect x="268.3" y="434" width="1.4" height="1.4" fill="#4a5d73"/>
<rect x="268.3" y="443.6" width="1.4" height="1.4" fill="#4a5d73"/>
<circle cx="269" cy="440.6" r="2.0" fill="#3b73a9"/>
<line x1="302.1" y1="394.5" x2="302.1" y2="423.7" stroke="#cb6a73" stroke-width="2.0"/>
<rect x="301.1" y="394.1" width="2.0" height="1.4" fill="#9c4a53"/>
<rect x="301.1" y="422.7" width="2.0" height="1.4" fill="#9c4a53"/>
<circle cx="302.1" cy="410" r="2.0" fill="#d22329"/>
<line x1="306.9" y1="411" x2="306.9" y2="434.7" stroke="#5f89b1" stroke-width="1.4"/>
<rect x="306.2" y="410.6" width="1.4" height="1.4" fill="#4a5d73"/>
<rect x="306.2" y="433.7" width="1.4" height="1.4" fill="#4a5d73"/>
<circle cx="306.9" cy="424.8" r="2.0" fill="#3b73a9"/>
<text x="21.0" y="452.5" text-anchor="end" font-size="6.2" fill="#737373">0%</text>
<text x="21.0" y="431.34" text-anchor="end" font-size="6.2" fill="#737373">20%</text>
<text x="21.0" y="410.18" text-anchor="end" font-size="6.2" fill="#737373">40%</text>
<text x="21.0" y="389.02" text-anchor="end" font-size="6.2" fill="#737373">60%</text>
<text x="168.9" y="470.8" text-anchor="middle" font-size="7.45" fill="#3a3a3a">Age at death (years)</text>
<text transform="translate(5.2,356.4) rotate(-90)" x="0" y="0" text-anchor="middle" font-size="7.6" fill="#3a3a3a">Predicted probability</text>
<text x="324.9" y="345.4" font-size="7.45" fill="#3a3a3a">Gender</text>
<line x1="325.6" y1="355.6" x2="334.8" y2="355.6" stroke="#c4434b" stroke-width="1.1"/>
<circle cx="330.2" cy="355.6" r="1.9" fill="#d22329"/>
<text x="340.1" y="357.8" font-size="6.2" fill="#4a4a4a" stroke="#4a4a4a" stroke-width="0.12">F</text>
<line x1="325.6" y1="367.5" x2="334.8" y2="367.5" stroke="#3f73a5" stroke-width="1.1"/>
<circle cx="330.2" cy="367.5" r="1.9" fill="#3b73a9"/>
<text x="340.1" y="369.7" font-size="6.2" fill="#4a4a4a" stroke="#4a4a4a" stroke-width="0.12">M</text>
</svg>
</body></html>
